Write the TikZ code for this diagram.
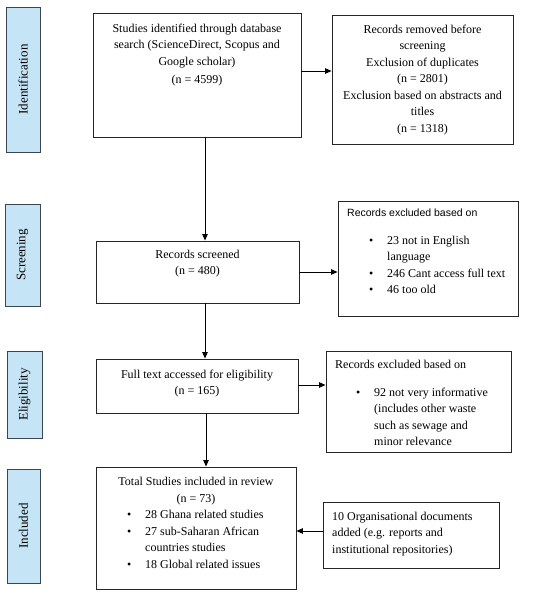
\documentclass[tikz,border=0pt]{standalone}
\usepackage{fontspec}
\setmainfont{Liberation Serif}
\newfontfamily\hfont{Liberation Sans}
\usetikzlibrary{arrows.meta}
\definecolor{phase}{RGB}{197,228,245}
\definecolor{phaseedge}{RGB}{60,70,80}
\newcommand\bul{\makebox[18pt][l]{\textbullet}}
\newcommand\ind{\hspace*{18pt}}
\tikzset{
  box/.style={draw=black!85, line width=0.9pt, inner sep=0pt},
  phasebox/.style={draw=phaseedge, fill=phase, line width=0.9pt, inner sep=0pt},
  phasetext/.style={rotate=90, font=\fontsize{13}{14}\selectfont},
  txt/.style={inner sep=0pt, font=\fontsize{12}{16.5}\selectfont},
  arr/.style={line width=0.9pt, -{Triangle[length=6.5pt,width=5.5pt]}}
}
\begin{document}
\begin{tikzpicture}[x=1pt,y=-1pt]
\useasboundingbox (0,0) rectangle (550,596);
% phase labels
\node[phasebox, minimum width=34, minimum height=145] (pid) at (23,79.5) {};
\node[phasetext] (tid) at (pid.center) {Identification};
\node[phasebox, minimum width=35, minimum height=102] (psc) at (22.5,255) {};
\node[phasetext] (tsc) at (psc.center) {Screening};
\node[phasebox, minimum width=35, minimum height=87] (pel) at (24.5,394.5) {};
\node[phasetext] (tel) at (pel.center) {Eligibility};
\node[phasebox, minimum width=33, minimum height=114] (pin) at (23.5,526) {};
\node[phasetext] (tin) at (pin.center) {Included};
% main boxes
\node[box, minimum width=208, minimum height=124] (b1) at (197,75) {};
\node[txt, align=center, anchor=north] (t1) at (197,23.5) {Studies identified through database\\search (ScienceDirect, Scopus and\\Google scholar)\\[2pt](n = 4599)};
\node[box, minimum width=181, minimum height=129] (r1) at (422.5,79.5) {};
\node[txt, align=center, anchor=north] (tr1) at (422.5,24.5) {Records removed before\\screening\\Exclusion of duplicates\\(n = 2801)\\Exclusion based on abstracts and\\titles\\(n = 1318)};
\node[box, minimum width=203, minimum height=62] (b2) at (197.5,272) {};
\node[txt, align=center, anchor=north] (t2) at (197.5,249.5) {Records screened\\(n = 480)};
\node[box, minimum width=180, minimum height=115] (r2) at (428,258.5) {};
\node[txt, anchor=west, font=\hfont\fontsize{10.5}{13}\selectfont] (h2) at (347,213) {Records excluded based on};
\node[txt, align=left, anchor=north west] (l21) at (369,235.5) {\bul 23 not in English\\\ind language\\\bul 246 Cant access full text\\\bul 46 too old};
\node[box, minimum width=202, minimum height=54] (b3) at (197,386) {};
\node[txt, align=center, anchor=north] (t3) at (197,369.5) {Full text accessed for eligibility\\(n = 165)};
\node[box, minimum width=185, minimum height=101] (r3) at (418.5,401.5) {};
\node[txt, anchor=west] (h3) at (335,364) {Records excluded based on};
\node[txt, align=left, anchor=north west] (l31) at (356,387.5) {\bul 92 not very informative\\\ind (includes other waste\\\ind such as sewage and\\\ind minor relevance};
\node[box, minimum width=200, minimum height=122] (b4) at (196,528) {};
\node[txt, align=center, anchor=north] (t4) at (196,477) {Total Studies included in review\\(n = 73)};
\node[txt, align=left, anchor=north west] (l41) at (127,510) {\bul 28 Ghana related studies\\\bul 27 sub-Saharan African\\\ind countries studies\\\bul 18 Global related issues};
\node[box, minimum width=176, minimum height=66] (r4) at (411,535) {};
\node[txt, align=left, anchor=north west] (l42) at (332,511.5) {10 Organisational documents\\added (e.g. reports and\\institutional repositories)};
% connectors
\draw[arr] (b1.east |- 0,71) -- (r1.west |- 0,71);
\draw[arr] (b1.south -| 205,0) -- (b2.north -| 205,0);
\draw[arr] (b2.east |- 0,272) -- (r2.west |- 0,272);
\draw[arr] (b2.south -| 205,0) -- (b3.north -| 205,0);
\draw[arr] (b3.east |- 0,385) -- (r3.west |- 0,385);
\draw[arr] (b3.south -| 206,0) -- (b4.north -| 206,0);
\draw[arr] (r4.west |- 0,531) -- (b4.east |- 0,531);
\end{tikzpicture}
\end{document}
